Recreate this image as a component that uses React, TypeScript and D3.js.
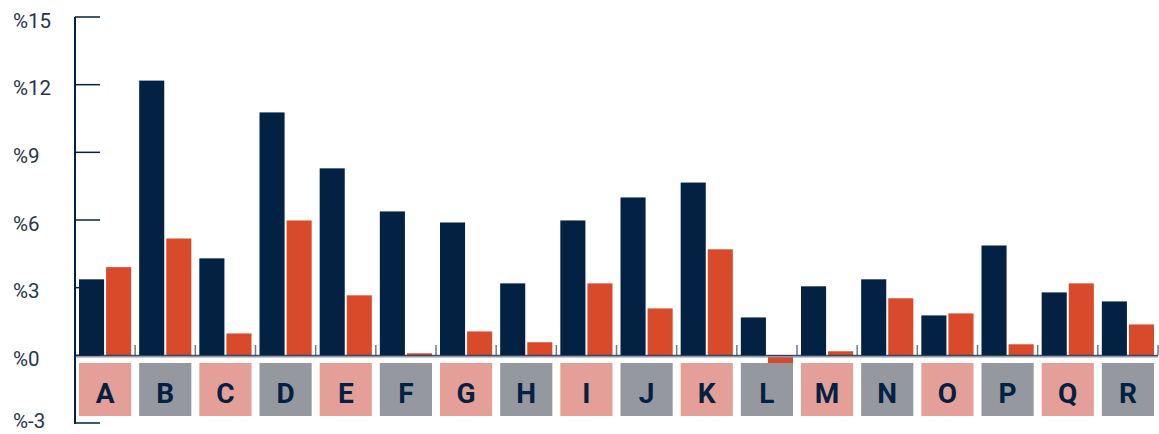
import * as d3 from 'd3';

const categories = ['A', 'B', 'C', 'D', 'E', 'F', 'G', 'H', 'I', 'J', 'K', 'L', 'M', 'N', 'O', 'P', 'Q', 'R'];
const seriesNavy = [3.37, 12.18, 4.3, 10.77, 8.29, 6.38, 5.89, 3.19, 5.98, 7.0, 7.66, 1.68, 3.06, 3.37, 1.77, 4.87, 2.79, 2.39];
const seriesOrange = [3.91, 5.18, 0.97, 5.98, 2.66, 0.09, 1.06, 0.58, 3.19, 2.08, 4.7, -0.44, 0.18, 2.53, 1.86, 0.49, 3.19, 1.37];
const yTicks = [-3, 0, 3, 6, 9, 12, 15];

const NAVY = '#022143';
const ORANGE = '#d84a29';
const PINK = '#e59f99';
const GREY = '#96989f';

const width = 1159;
const height = 434;

export default function App() {
  const x = d3.scaleBand<string>().domain(categories).range([75, 1158]).padding(0);
  const bw = x.bandwidth();
  const x1 = d3.scaleBand<string>().domain(['navy', 'orange']).range([4, bw - 4]).paddingInner(0.074);
  const y = d3.scaleLinear().domain([-3, 15]).range([423, 17]);
  const y0 = y(0);

  const bar = (v: number) => ({ y: v >= 0 ? y(v) : y0, h: Math.abs(y(v) - y0) });

  return (
    <svg width={width} height={height} style={{ position: 'absolute', left: 0, top: 0 }}>
      {/* y labels, bottom one kept inside the frame */}
      {yTicks.map(t => (
        <text key={t} x={13} y={Math.min(y(t) + 10.5, 428)} fontFamily="Roboto, sans-serif" fontSize={20.5} fill="#27354a">
          {`%${t}`}
        </text>
      ))}
      {/* y ticks */}
      {yTicks.map(t => (
        <line key={'t' + t} x1={75} x2={100} y1={y(t)} y2={y(t)} stroke={NAVY} strokeWidth={1.5} />
      ))}
      {/* bars */}
      {categories.map((c, i) => {
        const bx = x(c)!;
        const a = bar(seriesNavy[i]);
        const b = bar(seriesOrange[i]);
        return (
          <g key={c}>
            <rect x={bx + x1('navy')!} y={a.y} width={x1.bandwidth()} height={a.h} fill={NAVY} />
            <rect x={bx + x1('orange')!} y={b.y} width={x1.bandwidth()} height={b.h} fill={ORANGE} />
          </g>
        );
      })}
      {/* band boundary ticks */}
      {categories.map(c => {
        const bx = x(c)! + bw;
        return <line key={'b' + c} x1={bx} x2={bx} y1={345} y2={y0} stroke="#6b7a8c" strokeWidth={1.5} />;
      })}
      {/* zero line */}
      <line x1={75} x2={1158} y1={y0} y2={y0} stroke="#1b2b44" strokeWidth={1} />
      <line x1={75} x2={1158} y1={y0 + 1.5} y2={y0 + 1.5} stroke="#8a9ab0" strokeWidth={1.5} />
      {/* axis line */}
      <line x1={75} x2={75} y1={y(15)} y2={y(-3) + 1} stroke={NAVY} strokeWidth={2} />
      {/* category boxes */}
      {categories.map((c, i) => {
        const bx = x(c)! + 4;
        return (
          <g key={'c' + c}>
            <rect x={bx} y={363} width={bw - 8} height={53} fill={i % 2 === 0 ? PINK : GREY} />
            <text x={bx + (bw - 8) / 2} y={403} textAnchor="middle" fontFamily="Roboto, sans-serif" fontWeight={700} fontSize={28} fill={NAVY}>
              {c}
            </text>
          </g>
        );
      })}
    </svg>
  );
}
